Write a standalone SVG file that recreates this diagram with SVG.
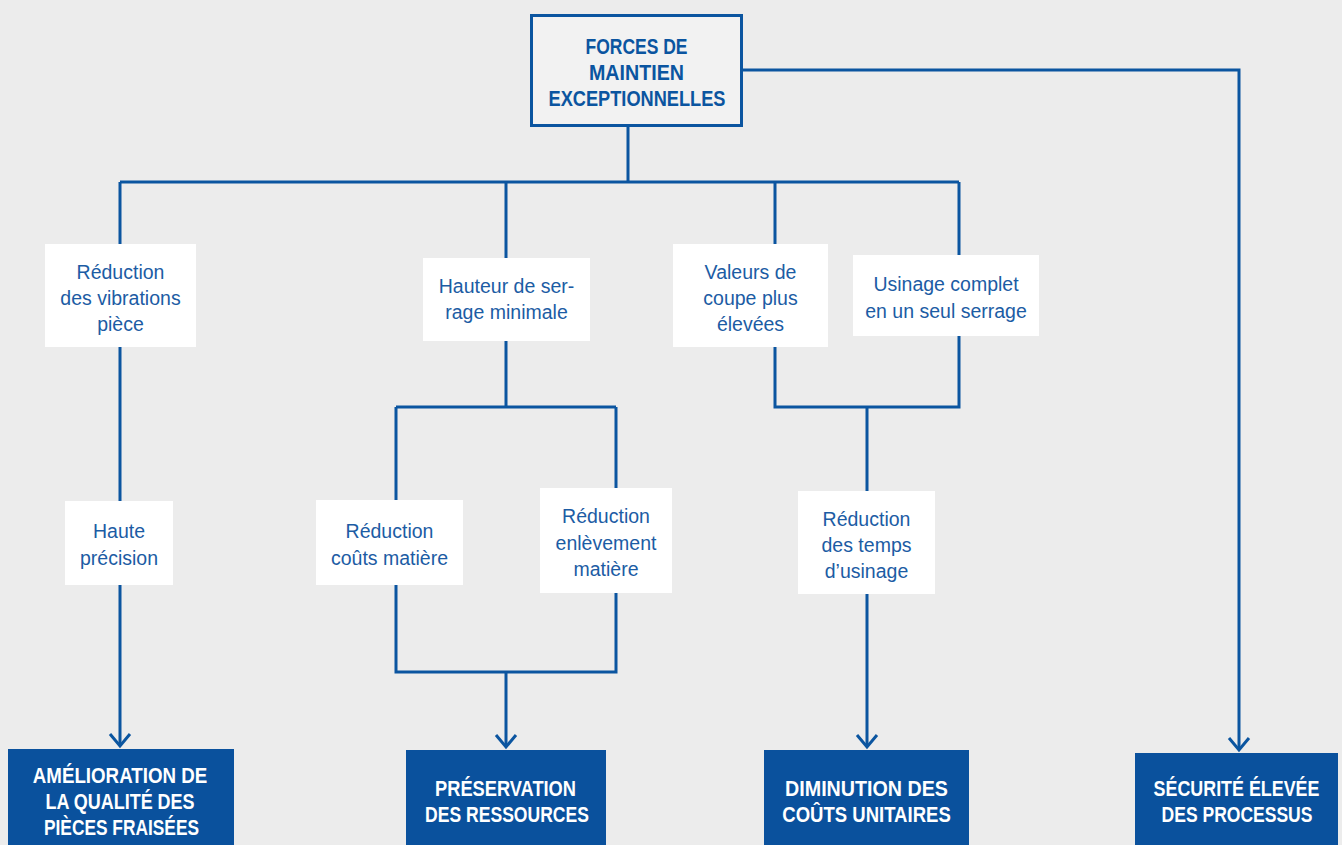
<svg xmlns="http://www.w3.org/2000/svg" width="1342" height="845" viewBox="0 0 1342 845">
<style>
.bg{fill:#ececec}
.ln{fill:none;stroke:#0b55a0;stroke-width:3;stroke-linecap:butt;stroke-linejoin:miter}
.arr{marker-end:url(#ah)}
.lbox{fill:#ffffff}
.top{fill:#f2f2f2;stroke:#0b55a0;stroke-width:3}
.dark{fill:#0a519d}
.lbl{font-family:"Liberation Sans",Arial,sans-serif;font-size:19.5px;fill:#1c5ca4;text-anchor:middle}
.hd{font-family:"Liberation Sans",Arial,sans-serif;font-weight:bold;font-size:22px;text-anchor:middle}
.hdb{fill:#0b55a0}
.hdw{fill:#ffffff}
</style>
<defs>
<marker id="ah" markerUnits="userSpaceOnUse" markerWidth="30" markerHeight="30" viewBox="-15 -15 30 30" refX="0" refY="0" orient="auto" overflow="visible">
<path d="M-12,-10 L0,0 L-12,10" fill="none" stroke="#0b55a0" stroke-width="3"/>
</marker>
</defs>
<rect class="bg" x="0" y="0" width="1342" height="845"/>

<g id="connectors">
<path class="ln" d="M628,127 V182"/>
<path class="ln" d="M120,182 H959"/>
<path class="ln arr" d="M120,182 V746"/>
<path class="ln" d="M506,182 V407"/>
<path class="ln" d="M396,407 H616"/>
<path class="ln" d="M396,407 V672 H616 V407"/>
<path class="ln arr" d="M506,672 V747"/>
<path class="ln" d="M775,182 V407 H959 V182"/>
<path class="ln arr" d="M867,407 V747"/>
<path class="ln arr" d="M743,70 H1239 V750"/>
</g>

<g id="n-forces">
<rect class="top" x="531.5" y="15.5" width="210" height="110"/>
<text class="hd hdb" transform="translate(636.5,53.5) scale(0.795,1)">FORCES DE</text>
<text class="hd hdb" transform="translate(636.5,80) scale(0.894,1)">MAINTIEN</text>
<text class="hd hdb" transform="translate(637,106) scale(0.8275,1)">EXCEPTIONNELLES</text>
</g>

<g id="n-vibrations">
<rect class="lbox" x="45" y="244" width="151" height="103"/>
<text class="lbl" x="120.5" y="279">Réduction</text>
<text class="lbl" x="120.5" y="305">des vibrations</text>
<text class="lbl" x="120.5" y="331">pièce</text>
</g>

<g id="n-hauteur">
<rect class="lbox" x="423" y="258" width="167" height="83"/>
<text class="lbl" x="506.5" y="292.5">Hauteur de ser-</text>
<text class="lbl" x="506.5" y="319">rage minimale</text>
</g>

<g id="n-valeurs">
<rect class="lbox" x="673" y="244" width="155" height="103"/>
<text class="lbl" x="750.5" y="278.5">Valeurs de</text>
<text class="lbl" x="750.5" y="304.5">coupe plus</text>
<text class="lbl" x="750.5" y="330.5">élevées</text>
</g>

<g id="n-usinage">
<rect class="lbox" x="853" y="255" width="186" height="81"/>
<text class="lbl" x="946" y="291">Usinage complet</text>
<text class="lbl" x="946" y="317.5">en un seul serrage</text>
</g>

<g id="n-haute">
<rect class="lbox" x="65" y="501" width="108" height="84"/>
<text class="lbl" x="119" y="538">Haute</text>
<text class="lbl" x="119" y="564.5">précision</text>
</g>

<g id="n-couts-matiere">
<rect class="lbox" x="316" y="500" width="147" height="85"/>
<text class="lbl" x="389.5" y="538">Réduction</text>
<text class="lbl" x="389.5" y="564.5">coûts matière</text>
</g>

<g id="n-enlevement">
<rect class="lbox" x="540" y="488" width="132" height="105"/>
<text class="lbl" x="606" y="523">Réduction</text>
<text class="lbl" x="606" y="549.5">enlèvement</text>
<text class="lbl" x="606" y="576">matière</text>
</g>

<g id="n-temps">
<rect class="lbox" x="798" y="491" width="137" height="103"/>
<text class="lbl" x="866.5" y="525.5">Réduction</text>
<text class="lbl" x="866.5" y="551.5">des temps</text>
<text class="lbl" x="866.5" y="577.5">d’usinage</text>
</g>

<g id="n-qualite">
<rect class="dark" x="8" y="749" width="226" height="96"/>
<text class="hd hdw" transform="translate(120,783) scale(0.852,1)">AMÉLIORATION DE</text>
<text class="hd hdw" transform="translate(120,809) scale(0.818,1)">LA QUALITÉ DES</text>
<text class="hd hdw" transform="translate(121.5,835) scale(0.788,1)">PIÈCES FRAISÉES</text>
</g>

<g id="n-ressources">
<rect class="dark" x="406" y="750" width="200" height="95"/>
<text class="hd hdw" transform="translate(505.5,796) scale(0.83,1)">PRÉSERVATION</text>
<text class="hd hdw" transform="translate(507,822) scale(0.798,1)">DES RESSOURCES</text>
</g>

<g id="n-couts">
<rect class="dark" x="764" y="750" width="205" height="95"/>
<text class="hd hdw" transform="translate(866.5,796) scale(0.895,1)">DIMINUTION DES</text>
<text class="hd hdw" transform="translate(866.5,822) scale(0.843,1)">COÛTS UNITAIRES</text>
</g>

<g id="n-securite">
<rect class="dark" x="1135" y="753" width="203" height="92"/>
<text class="hd hdw" transform="translate(1236.5,796) scale(0.813,1)">SÉCURITÉ ÉLEVÉE</text>
<text class="hd hdw" transform="translate(1237,822) scale(0.797,1)">DES PROCESSUS</text>
</g>
</svg>
